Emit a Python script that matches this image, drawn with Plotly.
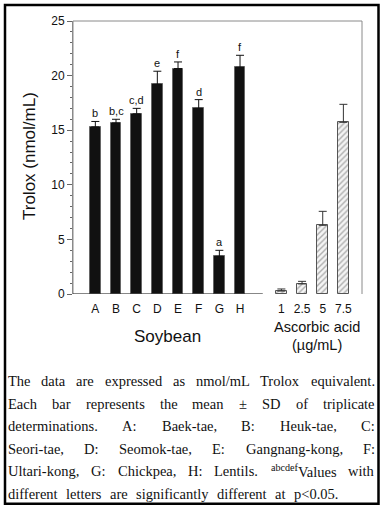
import plotly.graph_objects as go

# ---------------- data ----------------
soy_labels = ["A", "B", "C", "D", "E", "F", "G", "H"]
soy_values = [15.3, 15.66, 16.5, 19.2, 20.65, 17.0, 3.45, 20.76]
soy_sd = [0.5, 0.34, 0.5, 1.2, 0.6, 0.8, 0.55, 1.1]
soy_letters = ["b", "b,c", "c,d", "e", "f", "d", "a", "f"]

asc_labels = ["1", "2.5", "5", "7.5"]
asc_values = [0.27, 0.92, 6.29, 15.72]
asc_sd = [0.19, 0.24, 1.28, 1.65]

y_ticks = [0, 5, 10, 15, 20, 25]

caption_lines = [
    "The data are expressed as nmol/mL Trolox equivalent.",
    "Each bar represents the mean ± SD of triplicate",
    "determinations. A: Baek-tae, B: Heuk-tae, C:",
    "Seori-tae, D: Seomok-tae, E: Gangnang-kong, F:",
    "Ultari-kong, G: Chickpea, H: Lentils. <sup>abcdef</sup>Values with",
    "different letters are significantly different at p<0.05.",
]

# ---------------- layout constants ----------------
W, H = 384, 513
ML, MR, MT, MB = 73, 22, 21, 219
PW, PH = W - ML - MR, H - MT - MB

soy_x = list(range(1, len(soy_labels) + 1))
asc_x = list(range(len(soy_labels) + 2, len(soy_labels) + 2 + len(asc_labels)))


def px(x):
    return (x - ML) / PW


def py(y):
    return 1 - (y - MT) / PH


fig = go.Figure()

fig.add_trace(go.Bar(
    x=soy_x, y=soy_values, width=0.52,
    marker=dict(color="#111111", line=dict(color="#666666", width=1)),
    error_y=dict(type="data", symmetric=False, array=soy_sd,
                 arrayminus=[0] * len(soy_sd), color="#111111",
                 thickness=1, width=4),
    showlegend=False,
))

fig.add_trace(go.Bar(
    x=asc_x, y=asc_values, width=0.52,
    marker=dict(color="#f2f2f2", line=dict(color="#555555", width=1),
                pattern=dict(shape="/", fgcolor="#666666", bgcolor="#f4f4f4",
                             size=4, solidity=0.35)),
    error_y=dict(type="data", symmetric=False, array=asc_sd,
                 arrayminus=[0] * len(asc_sd), color="#333333",
                 thickness=1, width=4),
    showlegend=False,
))

annotations = []
sans = "Liberation Sans, Arial, sans-serif"
serif = "Liberation Serif, Times New Roman, serif"

# significance letters
for x, v, e, t in zip(soy_x, soy_values, soy_sd, soy_letters):
    annotations.append(dict(x=x, y=v + e, xref="x", yref="y", text=t,
                            showarrow=False, yanchor="bottom", yshift=1,
                            borderpad=0, font=dict(family=sans, size=11, color="#111")))

# group titles
annotations.append(dict(x=sum(soy_x) / len(soy_x), y=py(336), xref="x", yref="paper",
                        text="Soybean", showarrow=False, yanchor="middle",
                        font=dict(family=sans, size=17, color="#111")))
asc_center = sum(asc_x) / len(asc_x) + 0.2
annotations.append(dict(x=asc_center, y=py(326.5), xref="x", yref="paper",
                        text="Ascorbic acid", showarrow=False, yanchor="middle",
                        font=dict(family=sans, size=14.5, color="#111")))
annotations.append(dict(x=asc_center, y=py(345), xref="x", yref="paper",
                        text="(µg/mL)", showarrow=False, yanchor="middle",
                        font=dict(family=sans, size=14.5, color="#111")))

# y title
annotations.append(dict(x=px(29.5), y=py(156.5), xref="paper", yref="paper",
                        text="Trolox (nmol/mL)", textangle=-90, showarrow=False,
                        xanchor="center", yanchor="middle",
                        font=dict(family=sans, size=17, color="#111")))

# justified caption (Times metrics)
TW = {' ': 250, 'a': 444, 'b': 500, 'c': 444, 'd': 500, 'e': 444, 'f': 333, 'g': 500,
      'h': 500, 'i': 278, 'j': 278, 'k': 500, 'l': 278, 'm': 778, 'n': 500, 'o': 500,
      'p': 500, 'q': 500, 'r': 333, 's': 389, 't': 278, 'u': 500, 'v': 500, 'w': 722,
      'x': 500, 'y': 500, 'z': 444, 'A': 722, 'B': 667, 'C': 667, 'D': 722, 'E': 611,
      'F': 556, 'G': 722, 'H': 722, 'I': 333, 'L': 611, 'M': 889, 'S': 556, 'T': 611,
      'U': 722, 'V': 722, '.': 250, ',': 250, ':': 278, '-': 333, '/': 278, '(': 333,
      ')': 333, '<': 564, '±': 564}
CAP_SIZE = 14.5


def word_width(w):
    total = 0.0
    scale = 1.0
    i = 0
    while i < len(w):
        if w.startswith("<sup>", i):
            scale = 0.7
            i += 5
            continue
        if w.startswith("</sup>", i):
            scale = 1.0
            i += 6
            continue
        total += TW.get(w[i], 500) * scale
        i += 1
    return total * CAP_SIZE / 1000


cap_left = 8
cap_rights = [375, 375, 375, 375, 375, 338]
line_y0, line_step = 381.0, 22.6
for li, (line, right) in enumerate(zip(caption_lines, cap_rights)):
    words = line.split(" ")
    widths = [word_width(w) for w in words]
    gap = (right - cap_left - sum(widths)) / (len(words) - 1)
    xcur = cap_left
    yc = line_y0 + li * line_step
    for wi, (w, ww) in enumerate(zip(words, widths)):
        if wi == 0:
            xa, xpos = "left", xcur
        elif wi == len(words) - 1:
            xa, xpos = "right", right
        else:
            xa, xpos = "center", xcur + ww / 2
        annotations.append(dict(x=px(xpos), y=py(yc), xref="paper", yref="paper",
                                text=w, showarrow=False, xanchor=xa, yanchor="middle",
                                borderpad=0, borderwidth=0,
                                font=dict(family=serif, size=CAP_SIZE, color="#111")))
        xcur += ww + gap

shapes = [
    # outer frame
    dict(type="rect", xref="paper", yref="paper", x0=px(5), x1=px(378.5),
         y0=py(503.8), y1=py(5), line=dict(color="black", width=2.5)),
    # plot box (left, top, right)
    dict(type="path", xref="paper", yref="paper", path="M 0,0 L 0,1 L 1,1 L 1,0",
         line=dict(color="#8a8a8a", width=1)),
    # bottom axis under soybean group
    dict(type="line", xref="x", yref="y", x0=-0.08, x1=len(soy_labels) + 1.1,
         y0=0, y1=0, line=dict(color="#111111", width=1.2)),
]

fig.update_layout(
    width=W, height=H,
    margin=dict(l=ML, r=MR, t=MT, b=MB, autoexpand=False),
    paper_bgcolor="white", plot_bgcolor="white",
    bargap=0, barmode="overlay",
    annotations=annotations, shapes=shapes,
    xaxis=dict(range=[-0.08, 13.9], tickvals=soy_x + asc_x,
               ticktext=soy_labels + asc_labels, showgrid=False, zeroline=False,
               showline=False, ticks="", ticklabelstandoff=6,
               tickfont=dict(family=sans, size=12, color="#111")),
    yaxis=dict(range=[0, 25], tickvals=y_ticks, showgrid=False, zeroline=False,
               showline=True, linecolor="#8a8a8a", linewidth=1,
               ticks="outside", ticklen=5, tickcolor="#666", tickwidth=1,
               minor=dict(dtick=1, ticks="outside", ticklen=2, tickcolor="#666"),
               tickfont=dict(family=sans, size=12, color="#111")),
)

fig.write_html("out.html", config={"displayModeBar": False},
               post_script="document.body.style.margin='0';document.body.style.overflow='hidden';")
